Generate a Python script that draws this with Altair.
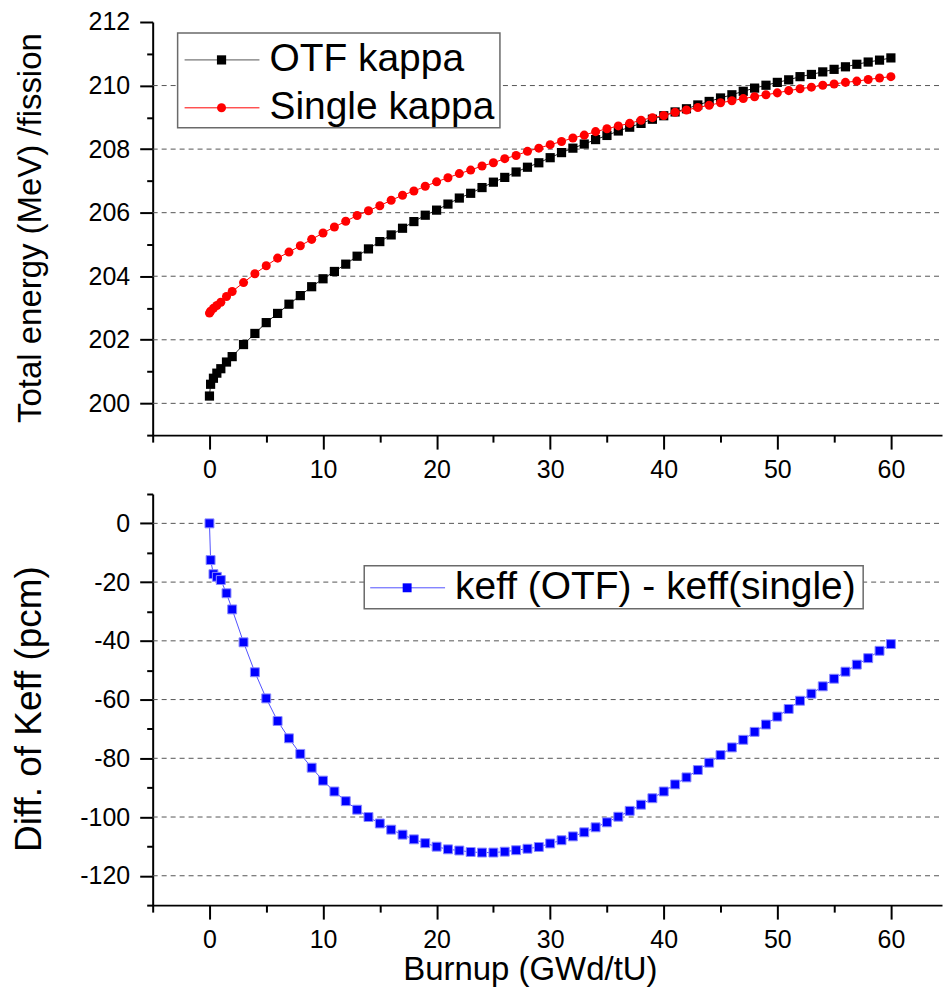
import altair as alt
import pandas as pd

# Burnup steps (GWd/tU)
burnup = [0, 0.1, 0.35, 0.65, 1, 1.5, 2,
          3, 4, 5, 6, 7, 8, 9, 10, 11, 12, 13, 14, 15, 16, 17, 18, 19, 20,
          21, 22, 23, 24, 25, 26, 27, 28, 29, 30, 31, 32, 33, 34, 35, 36, 37, 38, 39, 40,
          41, 42, 43, 44, 45, 46, 47, 48, 49, 50, 51, 52, 53, 54, 55, 56, 57, 58, 59, 60]

# Total energy per fission (MeV), on-the-fly kappa
otf_kappa = [200.23, 200.60, 200.79, 200.95, 201.09, 201.30, 201.47,
             201.85, 202.20, 202.54, 202.83, 203.12, 203.39, 203.67, 203.92, 204.15, 204.38,
             204.63, 204.86, 205.09, 205.30, 205.51, 205.72, 205.92, 206.08, 206.27, 206.46,
             206.61, 206.79, 206.96, 207.11, 207.28, 207.43, 207.57, 207.73, 207.89, 208.03,
             208.16, 208.30, 208.43, 208.57, 208.69, 208.81, 208.94, 209.05, 209.17, 209.27,
             209.39, 209.50, 209.61, 209.71, 209.82, 209.92, 210.01, 210.10, 210.18, 210.28,
             210.35, 210.43, 210.51, 210.59, 210.67, 210.74, 210.80, 210.87]

# Total energy per fission (MeV), single kappa
single_kappa = [202.84, 202.90, 202.99, 203.08, 203.18, 203.36, 203.52,
                203.80, 204.08, 204.33, 204.57, 204.76, 204.96, 205.16, 205.36, 205.55, 205.73,
                205.91, 206.06, 206.22, 206.39, 206.55, 206.68, 206.83, 206.97, 207.10, 207.23,
                207.34, 207.47, 207.57, 207.70, 207.80, 207.93, 208.03, 208.14, 208.24, 208.35,
                208.44, 208.55, 208.64, 208.73, 208.81, 208.91, 208.99, 209.06, 209.16, 209.23,
                209.31, 209.38, 209.46, 209.52, 209.59, 209.65, 209.71, 209.77, 209.84, 209.90,
                209.95, 210.01, 210.05, 210.10, 210.14, 210.19, 210.24, 210.28]

# keff(OTF) - keff(single), pcm
keff_diff = [0.0, -12.5, -17.3, -18.2, -19.3, -23.8, -29.3,
             -40.5, -50.7, -59.6, -67.3, -73.2, -78.5, -83.2, -87.6, -91.3, -94.6,
             -97.5, -100.0, -102.2, -104.3, -106.0, -107.6, -108.9, -110.1, -111.0, -111.4,
             -111.9, -112.1, -112.1, -111.8, -111.3, -110.8, -110.2, -109.0, -107.9, -106.6,
             -105.2, -103.5, -101.8, -99.9, -97.9, -95.8, -93.6, -91.3, -88.9, -86.5,
             -84.0, -81.5, -78.9, -76.3, -73.7, -71.0, -68.5, -65.8, -63.2, -60.4,
             -58.0, -55.5, -52.9, -50.5, -48.1, -45.9, -43.4, -41.1]

x_tick_values = [-5, 0, 5, 10, 15, 20, 25, 30, 35, 40, 45, 50, 55, 60]
energy_tick_values = [199, 200, 201, 202, 203, 204, 205, 206, 207, 208, 209, 210, 211, 212]
energy_grid = [200, 202, 204, 206, 208, 210]
keff_tick_values = [-130, -120, -110, -100, -90, -80, -70, -60, -50, -40, -30, -20, -10, 0, 10]
keff_grid = [-120, -100, -80, -60, -40, -20, 0]

FONT = "Liberation Sans"
PLOT_W = 791
TOP_H = 414
BOT_H = 412

df_top = pd.DataFrame({"burnup": burnup, "otf": otf_kappa, "single": single_kappa})
df_bot = pd.DataFrame({"burnup": burnup, "diff": keff_diff})

x_scale = alt.Scale(domain=[-5, 64.5], nice=False, zero=False)


def x_axis(title=None):
    kw = dict(
        values=x_tick_values,
        labelExpr="datum.value % 10 === 0 ? '' + datum.value : ''",
        tickSize={"condition": {"test": "datum.value % 10 === 0", "value": 14}, "value": 7},
        labelPadding=8,
        labelOverlap=False,
        grid=False,
    )
    if title:
        kw.update(title=title, titleX=378, titleY=75, titleBaseline="alphabetic",
                  titleFontSize=33, titleAnchor="middle")
    else:
        kw.update(title=None)
    return alt.Axis(**kw)


def y_axis(values, major, title, title_y, title_size):
    return alt.Axis(
        values=values,
        labelExpr=f"datum.value % {major} === 0 ? '' + datum.value : ''",
        tickSize={"condition": {"test": f"datum.value % {major} === 0", "value": 13}, "value": 6},
        labelPadding=10,
        labelOverlap=False,
        grid=False,
        title=title,
        titleX=-112,
        titleY=title_y,
        titleBaseline="alphabetic",
        titleFontSize=title_size,
    )


def grid_layer(values, scale, axis):
    return alt.Chart(pd.DataFrame({"level": values})).mark_rule(
        color="#555555", strokeWidth=1, strokeDash=[5, 4]).encode(
        y=alt.Y("level:Q", scale=scale, axis=axis),
        x=alt.value(0), x2=alt.value(PLOT_W))


def legend_entry(label, color, line_color, shape, size, x0, y, text_y):
    d = alt.Chart(pd.DataFrame({"label": [label]}))
    seg = d.mark_rule(color=line_color, strokeWidth=1).encode(
        x=alt.value(x0), x2=alt.value(x0 + 75), y=alt.value(y))
    sym = d.mark_point(shape=shape, filled=True, size=size, color=color, opacity=1).encode(
        x=alt.value(x0 + 37), y=alt.value(y))
    txt = d.mark_text(align="left", baseline="middle", font=FONT, fontSize=39, color="black").encode(
        x=alt.value(x0 + 85), y=alt.value(text_y), text="label:N")
    return [seg, sym, txt]


def legend_box(x1, x2, y1, y2):
    return alt.Chart(pd.DataFrame({"box": [0]})).mark_rect(
        fill="white", stroke="#6a6a6a", strokeWidth=1.5).encode(
        x=alt.value(x1), x2=alt.value(x2), y=alt.value(y1), y2=alt.value(y2))


# ---- upper panel: energy per fission ----
xe_top = alt.X("burnup:Q", scale=x_scale, axis=x_axis())
y_energy = alt.Scale(domain=[199, 212], nice=False, zero=False)
ax_energy = y_axis(energy_tick_values, 2, "Total energy (MeV) /fission", 206, 33)

base_top = alt.Chart(df_top)
otf_line = base_top.mark_line(color="#222222", strokeWidth=1).encode(
    x=xe_top, y=alt.Y("otf:Q", scale=y_energy, axis=ax_energy))
otf_pts = base_top.mark_point(shape="square", filled=True, size=85, color="black", opacity=1).encode(
    x=xe_top, y=alt.Y("otf:Q", scale=y_energy, axis=ax_energy))
single_line = base_top.mark_line(color="#ff0000", strokeWidth=1).encode(
    x=xe_top, y=alt.Y("single:Q", scale=y_energy, axis=ax_energy))
single_pts = base_top.mark_point(shape="circle", filled=True, size=82, color="#ff0000", opacity=1).encode(
    x=xe_top, y=alt.Y("single:Q", scale=y_energy, axis=ax_energy))

top_layers = [grid_layer(energy_grid, y_energy, ax_energy),
              otf_line, otf_pts, single_line, single_pts, legend_box(25, 348, 11, 106)]
top_layers += legend_entry("OTF kappa", "black", "#555555", "square", 85, 32, 38, 37)
top_layers += legend_entry("Single kappa", "#ff0000", "#ff0000", "circle", 82, 32, 86, 85)
top = alt.layer(*top_layers).properties(width=PLOT_W, height=TOP_H)

# ---- lower panel: keff difference ----
xe_bot = alt.X("burnup:Q", scale=x_scale, axis=x_axis("Burnup (GWd/tU)"))
y_keff = alt.Scale(domain=[-130, 10], nice=False, zero=False)
ax_keff = y_axis(keff_tick_values, 20, "Diff. of Keff (pcm)", 215, 37)

base_bot = alt.Chart(df_bot)
diff_line = base_bot.mark_line(color="#5050ff", strokeWidth=1).encode(
    x=xe_bot, y=alt.Y("diff:Q", scale=y_keff, axis=ax_keff))
diff_pts = base_bot.mark_point(shape="square", filled=True, size=80, color="#0000ff", opacity=1,
                               stroke="#8a8aff", strokeWidth=1).encode(
    x=xe_bot, y=alt.Y("diff:Q", scale=y_keff, axis=ax_keff))

bot_layers = [grid_layer(keff_grid, y_keff, ax_keff),
              diff_line, diff_pts, legend_box(212, 712, 72, 115)]
bot_layers += legend_entry("keff (OTF) - keff(single)", "#0000ff", "#5050ff", "square", 80, 218, 94, 93)
bottom = alt.layer(*bot_layers).properties(width=PLOT_W, height=BOT_H)

chart = alt.vconcat(top, bottom, spacing=59, bounds="flush").properties(
    padding={"left": 10, "top": 9, "right": 0, "bottom": 0}
).configure_view(
    stroke=None
).configure_axis(
    domainColor="black",
    domainWidth=2,
    tickColor="black",
    tickWidth=2,
    labelFont=FONT,
    labelFontSize=25,
    labelColor="black",
    titleFont=FONT,
    titleFontWeight="normal",
    titleColor="black",
)

chart.save("out.html", embed_options={"renderer": "svg", "actions": False})
